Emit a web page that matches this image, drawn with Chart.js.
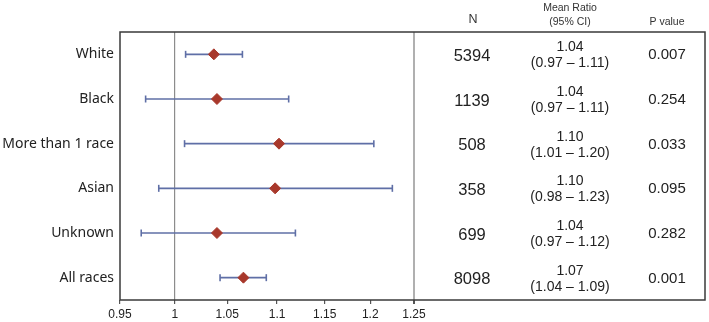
<!DOCTYPE html>
<html>
<head>
<meta charset="utf-8">
<script src="https://cdn.jsdelivr.net/npm/chart.js@4.4.1/dist/chart.umd.min.js"></script>
<style>
  html, body { margin: 0; padding: 0; background: #ffffff; }
  #wrap { position: relative; width: 709px; height: 322px; }
</style>
</head>
<body>
<div id="wrap"><canvas id="c"></canvas></div>
<script>
// ---- Data ----
const categories = ["White", "Black", "More than 1 race", "Asian", "Unknown", "All races"];
const meanValues = [1.037, 1.040, 1.102, 1.098, 1.040, 1.066];
const ciLower    = [1.010, 0.973, 1.009, 0.985, 0.969, 1.043];
const ciUpper    = [1.065, 1.112, 1.204, 1.225, 1.119, 1.089];
const nValues    = ["5394", "1139", "508", "358", "699", "8098"];
const meanRatioLabels = ["1.04", "1.04", "1.10", "1.10", "1.04", "1.07"];
const ciLabels   = ["(0.97 – 1.11)", "(0.97 – 1.11)", "(1.01 – 1.20)", "(0.98 – 1.23)", "(0.97 – 1.12)", "(1.04 – 1.09)"];
const pValues    = ["0.007", "0.254", "0.033", "0.095", "0.282", "0.001"];
const xTickValues = [0.95, 1, 1.05, 1.1, 1.15, 1.2, 1.25];
const xTickLabels = ["0.95", "1", "1.05", "1.1", "1.15", "1.2", "1.25"];

const DIAMOND = "#A8382B";
const BAR = "#5F6FA6";

const datasets = [{
  label: "Mean ratio",
  data: meanValues.map((v, i) => ({ x: v, y: i })),
  pointStyle: "rectRot",
  pointRadius: 5.5,
  pointHoverRadius: 5.5,
  backgroundColor: DIAMOND,
  borderColor: DIAMOND,
  borderWidth: 1,
  showLine: false
}];
categories.forEach((c, i) => {
  datasets.push({
    label: "CI " + c,
    data: [{ x: ciLower[i], y: i }, { x: ciUpper[i], y: i }],
    showLine: true,
    borderColor: BAR,
    borderWidth: 1.6,
    pointStyle: "line",
    rotation: 90,
    pointRadius: 3.5,
    pointHoverRadius: 3.5,
    pointBorderColor: BAR,
    pointBorderWidth: 1.6,
    backgroundColor: BAR
  });
});

const tablePlugin = {
  id: "tablePlugin",
  afterDraw(chart) {
    const ctx = chart.ctx;
    const ys = chart.scales.y;
    const area = chart.chartArea;
    ctx.save();
    // outer box
    ctx.strokeStyle = "#3a3a3a";
    ctx.lineWidth = 1.5;
    ctx.strokeRect(area.left, area.top, 705 - area.left, area.bottom - area.top);
    // headers
    ctx.fillStyle = "#333";
    ctx.textAlign = "center";
    ctx.textBaseline = "middle";
    ctx.font = "12.5px 'Liberation Sans', Arial, sans-serif";
    ctx.fillText("N", 473, 20);
    ctx.font = "10.5px 'Liberation Sans', Arial, sans-serif";
    ctx.fillText("Mean Ratio", 570, 8);
    ctx.fillText("(95% CI)", 570, 22);
    ctx.fillText("P value", 667, 22);
    // rows
    ctx.fillStyle = "#222";
    categories.forEach((c, i) => {
      const y = ys.getPixelForValue(i);
      ctx.font = "16.5px 'Liberation Sans', Arial, sans-serif";
      ctx.fillText(nValues[i], 472, y + 2);
      ctx.font = "14px 'Liberation Sans', Arial, sans-serif";
      ctx.fillText(meanRatioLabels[i], 570, y - 7);
      ctx.fillText(ciLabels[i], 570, y + 9);
      ctx.font = "15px 'Liberation Sans', Arial, sans-serif";
      ctx.fillText(pValues[i], 667, y + 1);
    });
    ctx.restore();
  }
};

new Chart(document.getElementById("c"), {
  type: "scatter",
  data: { datasets },
  options: {
    responsive: true,
    maintainAspectRatio: false,
    animation: false,
    events: [],
    layout: { padding: { top: 32, right: 295, left: 0, bottom: 0 } },
    plugins: {
      legend: { display: false },
      tooltip: { enabled: false }
    },
    scales: {
      x: {
        type: "logarithmic",
        min: 0.95,
        max: 1.25,
        afterBuildTicks(scale) { scale.ticks = xTickValues.map(v => ({ value: v })); },
        afterFit(scale) { scale.height = 22; },
        border: { display: false },
        grid: {
          drawTicks: true,
          tickLength: 4,
          tickColor: "#555",
          color(ctx) {
            const v = ctx.tick && ctx.tick.value;
            if (v === 1) return "#8c8c8c";
            if (v === 1.25) return "#b0b0b0";
            return "rgba(0,0,0,0)";
          },
          lineWidth(ctx) {
            const v = ctx.tick && ctx.tick.value;
            return v === 1.25 ? 2 : 1.2;
          }
        },
        ticks: {
          autoSkip: false,
          maxRotation: 0,
          padding: 3,
          color: "#222",
          font: { family: "'Liberation Sans', Arial, sans-serif", size: 12 },
          callback(value, index) { return xTickLabels[index]; }
        }
      },
      y: {
        type: "linear",
        reverse: true,
        min: -0.5,
        max: 5.5,
        afterBuildTicks(scale) { scale.ticks = categories.map((c, i) => ({ value: i })); },
        afterFit(scale) { scale.width = 120; },
        border: { display: false },
        grid: { display: false, drawTicks: false },
        ticks: {
          padding: 6,
          color: "#222",
          font: { family: "'Noto Sans', sans-serif", size: 14 },
          callback(value) { return categories[value] !== undefined ? categories[value] : ""; }
        }
      }
    }
  },
  plugins: [tablePlugin]
});
</script>
</body>
</html>
